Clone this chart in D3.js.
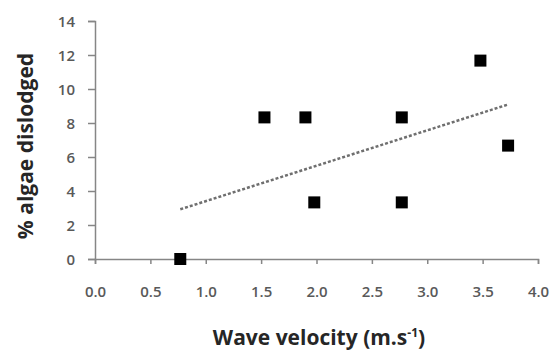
<!DOCTYPE html>
<html lang="en">
<head>
<meta charset="UTF-8" />
<title>Algae dislodged vs wave velocity</title>
<style>
  body { margin: 0; background: #fff; }
  svg { display: block; }
  .tick text { font-family: "Open Sans", sans-serif; font-size: 15px; font-weight: 600; fill: #595959; }
  .axis-title { font-family: "Open Sans", sans-serif; font-weight: 700; fill: #262626; }
</style>
</head>
<body>
<svg id="chart"></svg>
<script src="https://d3js.org/d3.v7.min.js"></script>
<script>
// data
const velocity = [0.77, 1.53, 1.90, 1.98, 2.77, 2.77, 3.48, 3.73];
const dislodged = [0, 8.33, 8.33, 3.33, 8.33, 3.33, 11.67, 6.67];
const xTicks = [0, 0.5, 1, 1.5, 2, 2.5, 3, 3.5, 4];
const yTicks = [0, 2, 4, 6, 8, 10, 12, 14];

const width = 556, height = 351;
const margin = { top: 21, right: 18, bottom: 92, left: 95 };

const svg = d3.select("#chart").attr("width", width).attr("height", height);

const x = d3.scaleLinear().domain([0, 4]).range([margin.left, width - margin.right]);
const y = d3.scaleLinear().domain([0, 14]).range([height - margin.bottom, margin.top]);

const axisColor = "#868686";

// x axis
const gx = svg.append("g")
  .attr("transform", `translate(0,${y(0)})`)
  .call(d3.axisBottom(x).tickValues(xTicks).tickFormat(d3.format(".1f")).tickSize(5).tickPadding(22));
// y axis
const gy = svg.append("g")
  .attr("transform", `translate(${x(0)},0)`)
  .call(d3.axisLeft(y).tickValues(yTicks).tickFormat(d3.format("d")).tickSize(7).tickPadding(13));

[gx, gy].forEach(g => {
  g.select(".domain").attr("stroke", axisColor).attr("stroke-width", 1.5);
  g.selectAll(".tick line").attr("stroke", axisColor).attr("stroke-width", 1.5);
});
gy.selectAll(".tick text").attr("dy", "0.35em");

// linear trend line (least squares)
const n = velocity.length;
const mx = d3.mean(velocity), my = d3.mean(dislodged);
let sxy = 0, sxx = 0;
for (let i = 0; i < n; i++) {
  sxy += (velocity[i] - mx) * (dislodged[i] - my);
  sxx += (velocity[i] - mx) ** 2;
}
const slope = sxy / sxx, intercept = my - slope * mx;
const x0 = d3.min(velocity), x1 = d3.max(velocity);

svg.append("line")
  .attr("x1", x(x0)).attr("y1", y(intercept + slope * x0))
  .attr("x2", x(x1)).attr("y2", y(intercept + slope * x1))
  .attr("stroke", "#6f6f6f")
  .attr("stroke-width", 2.5)
  .attr("stroke-dasharray", "3,2");

// markers
const size = 12;
svg.selectAll(".pt")
  .data(velocity.map((v, i) => [v, dislodged[i]]))
  .enter()
  .append("rect")
  .attr("class", "pt")
  .attr("x", d => x(d[0]) - size / 2)
  .attr("y", d => y(d[1]) - size / 2)
  .attr("width", size)
  .attr("height", size)
  .attr("fill", "#000");

// axis titles
const xt = svg.append("text")
  .attr("class", "axis-title")
  .attr("x", 319)
  .attr("y", 345)
  .attr("text-anchor", "middle")
  .style("font-size", "21px");
xt.append("tspan").text("Wave velocity (m.s");
xt.append("tspan").attr("dy", -8).style("font-size", "12px").text("-1");
xt.append("tspan").attr("dy", 8).text(")");

svg.append("text")
  .attr("class", "axis-title")
  .attr("transform", `translate(33,146) rotate(-90)`)
  .attr("text-anchor", "middle")
  .style("font-size", "21px")
  .text("% algae dislodged");
</script>
</body>
</html>
